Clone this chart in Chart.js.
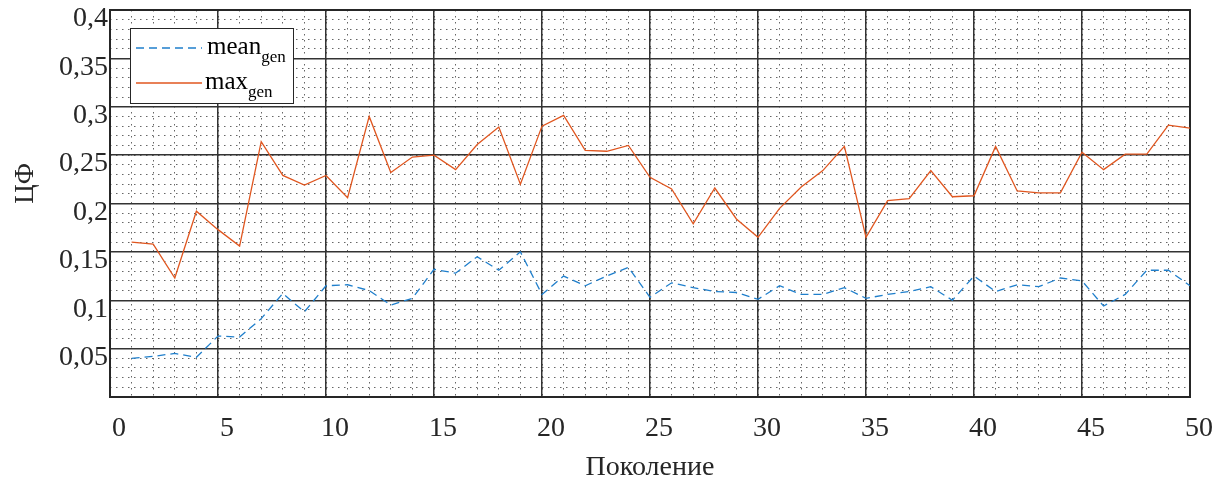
<!DOCTYPE html>
<html>
<head>
<meta charset="utf-8">
<script src="https://cdn.jsdelivr.net/npm/chart.js@4"></script>
<style>
  body { margin: 0; background: #fff; }
  #wrap { width: 1227px; height: 484px; }
</style>
</head>
<body>
<div id="wrap"><canvas id="chart" width="1227" height="484"></canvas></div>
<script>
// Generations and the two series.
const generations = [];
for ( let g = 1; g <= 50; g++ ) generations.push( g );

const meanGen = [
    0.040, 0.042, 0.045, 0.041, 0.063, 0.062, 0.081, 0.107, 0.088, 0.115,
    0.116, 0.110, 0.095, 0.102, 0.132, 0.128, 0.145, 0.131, 0.150, 0.106,
    0.125, 0.115, 0.125, 0.134, 0.103, 0.118, 0.113, 0.109, 0.108, 0.101,
    0.115, 0.106, 0.106, 0.113, 0.102, 0.106, 0.109, 0.114, 0.100, 0.125,
    0.109, 0.116, 0.114, 0.123, 0.120, 0.094, 0.106, 0.131, 0.131, 0.115
];
const maxGen = [
    0.160, 0.158, 0.123, 0.192, 0.173, 0.156, 0.264, 0.229, 0.219, 0.229,
    0.206, 0.290, 0.232, 0.248, 0.250, 0.235, 0.261, 0.279, 0.220, 0.280,
    0.291, 0.255, 0.254, 0.260, 0.227, 0.215, 0.179, 0.216, 0.184, 0.165,
    0.195, 0.217, 0.234, 0.259, 0.165, 0.203, 0.205, 0.234, 0.207, 0.208,
    0.259, 0.213, 0.211, 0.211, 0.253, 0.235, 0.251, 0.251, 0.281, 0.278
];
const seriesNames = [ "mean", "max" ];
const seriesSub = "gen";

const textColor = "#262626";
const serif = "'Liberation Serif', 'DejaVu Serif', serif";

function toPoints( values ) {
    return generations.map( ( g, i ) => ( { x: g, y: values[ i ] } ) );
}

// Draws the legend box with subscripts, which the built-in legend can't do.
const subLegend = {
    id: "subLegend",
    afterDraw( chart ) {
        const ctx = chart.ctx;
        const left = 130, top = 28, w = 163, h = 75;
        ctx.save();
        ctx.fillStyle = "#fff";
        ctx.fillRect( left, top, w, h );
        ctx.strokeStyle = "#262626";
        ctx.lineWidth = 1;
        ctx.setLineDash( [] );
        ctx.strokeRect( left + 0.5, top + 0.5, w, h );
        chart.data.datasets.forEach( ( ds, i ) => {
            const y = top + 20 + i * 35;
            ctx.strokeStyle = ds.borderColor;
            ctx.lineWidth = 1.3;
            ctx.setLineDash( ds.borderDash || [] );
            ctx.beginPath();
            ctx.moveTo( left + 6, y );
            ctx.lineTo( left + 72, y );
            ctx.stroke();
            ctx.setLineDash( [] );
            ctx.fillStyle = "#000";
            ctx.textBaseline = "alphabetic";
            ctx.font = "25px " + serif;
            const x0 = left + 77 - i * 2;
            ctx.fillText( seriesNames[ i ], x0, y + 6 );
            const tw = ctx.measureText( seriesNames[ i ] ).width;
            ctx.font = "17px " + serif;
            ctx.fillText( seriesSub, x0 + tw, y + 14 );
        });
        ctx.restore();
    }
};

const ctx = document.getElementById( "chart" );
new Chart( ctx, {
    type: "line",
    data: {
        datasets: [
            {
                label: "mean_gen",
                data: toPoints( meanGen ),
                borderColor: "#1f7fcc",
                borderWidth: 1.3,
                borderDash: [ 8, 5 ],
                pointRadius: 0,
                tension: 0,
                fill: false
            },
            {
                label: "max_gen",
                data: toPoints( maxGen ),
                borderColor: "#e0561f",
                borderWidth: 1.3,
                pointRadius: 0,
                tension: 0,
                fill: false
            }
        ]
    },
    options: {
        responsive: false,
        animation: false,
        layout: { padding: { top: 10, right: 37, left: 0, bottom: 0 } },
        plugins: {
            legend: { display: false },
            tooltip: { enabled: false }
        },
        scales: {
            // Minor dotted grid, drawn first.
            xMinor: {
                type: "linear",
                position: "bottom",
                min: 0,
                max: 50,
                ticks: { display: false, stepSize: 1 },
                grid: { color: "#666", lineWidth: 1, drawTicks: false },
                border: { display: false, dash: [ 1.5, 4.5 ] },
                afterFit( s ) { s.height = 0; s.paddingLeft = 0; s.paddingRight = 0; }
            },
            yMinor: {
                type: "linear",
                position: "left",
                min: 0,
                max: 0.4,
                ticks: { display: false, stepSize: 0.01 },
                grid: { color: "#666", lineWidth: 1, drawTicks: false },
                border: { display: false, dash: [ 1.5, 4.5 ] },
                afterFit( s ) { s.width = 0; s.paddingTop = 0; s.paddingBottom = 0; }
            },
            x: {
                type: "linear",
                position: "bottom",
                min: 0,
                max: 50,
                ticks: {
                    stepSize: 5,
                    color: textColor,
                    font: { family: serif, size: 28 },
                    padding: 15,
                    labelOffset: 9,
                    maxRotation: 0
                },
                grid: { color: "#333", lineWidth: 1.5, drawTicks: false },
                border: { display: true, color: "#262626", width: 2 },
                title: {
                    display: true,
                    text: "Поколение",
                    color: textColor,
                    font: { family: serif, size: 28 },
                    padding: { top: 0, bottom: 0 }
                },
                afterFit( s ) { s.height = 87; s.paddingLeft = 0; s.paddingRight = 0; }
            },
            y: {
                type: "linear",
                position: "left",
                min: 0,
                max: 0.4,
                ticks: {
                    stepSize: 0.05,
                    color: textColor,
                    font: { family: serif, size: 28 },
                    padding: 2,
                    labelOffset: 9,
                    callback: ( v ) => v === 0 ? "" : String( +v.toFixed( 2 ) ).replace( ".", "," )
                },
                grid: { color: "#333", lineWidth: 1.5, drawTicks: false },
                border: { display: true, color: "#262626", width: 2 },
                title: {
                    display: true,
                    // leading spaces lift the label to where it sits in the figure
                    text: "      ЦФ",
                    color: textColor,
                    font: { family: serif, size: 27 },
                    padding: { top: 10, bottom: 0 }
                },
                afterFit( s ) { s.width = 110; s.paddingTop = 0; s.paddingBottom = 0; }
            },
            // Right and top frame of the plot box.
            xTop: {
                type: "linear",
                position: "top",
                min: 0,
                max: 50,
                ticks: { display: false },
                grid: { display: false },
                border: { display: true, color: "#262626", width: 2 },
                afterFit( s ) { s.height = 0; }
            },
            yRight: {
                type: "linear",
                position: "right",
                min: 0,
                max: 0.4,
                ticks: { display: false },
                grid: { display: false },
                border: { display: true, color: "#262626", width: 2 },
                afterFit( s ) { s.width = 0; }
            }
        }
    },
    plugins: [ subLegend ]
});
</script>
</body>
</html>
